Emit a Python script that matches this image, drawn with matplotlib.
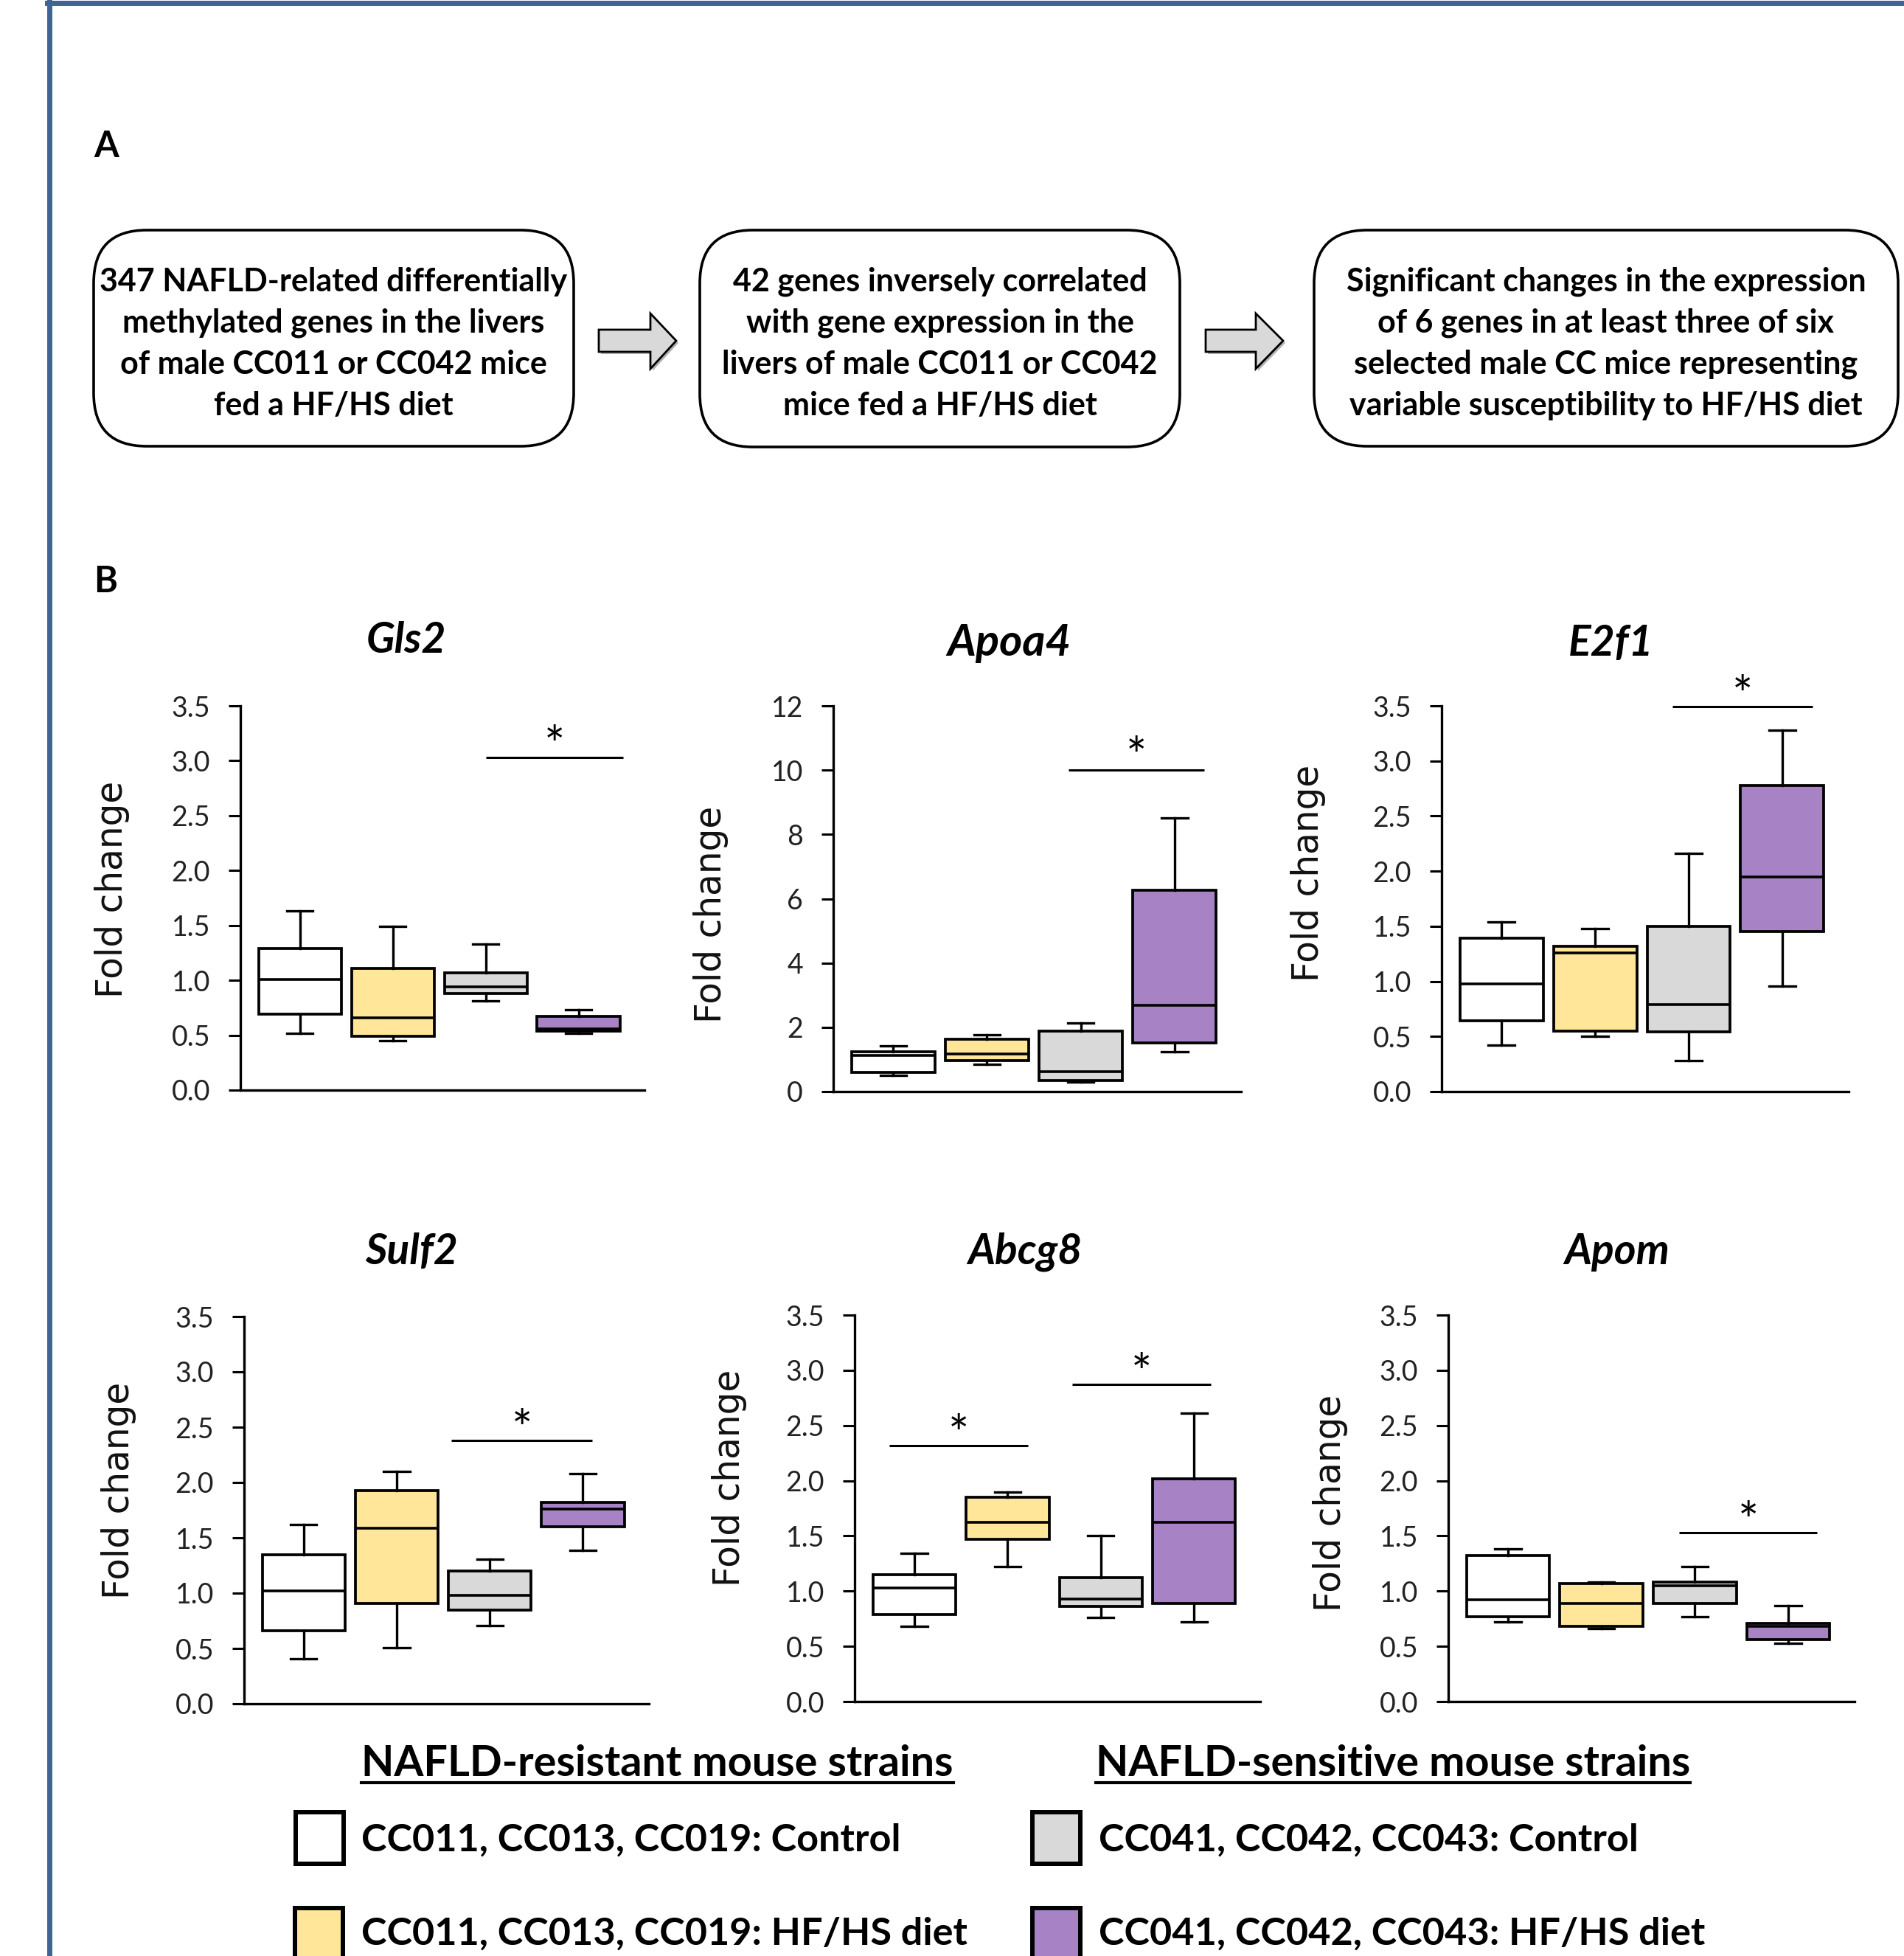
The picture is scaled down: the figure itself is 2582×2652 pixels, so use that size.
import matplotlib
matplotlib.use('Agg')
import matplotlib.pyplot as plt
from matplotlib.patches import FancyBboxPatch, Polygon, Rectangle
from matplotlib.lines import Line2D
from matplotlib.ticker import FixedLocator, FormatStrFormatter
from matplotlib.transforms import offset_copy

# ---------------- data ----------------
genes = ['Gls2', 'Apoa4', 'E2f1', 'Sulf2', 'Abcg8', 'Apom']
groups = ['CC011, CC013, CC019: Control', 'CC011, CC013, CC019: HF/HS diet',
          'CC041, CC042, CC043: Control', 'CC041, CC042, CC043: HF/HS diet']
group_colors = ['#FFFFFF', '#FFE699', '#D9D9D9', '#A783C5']

# box statistics per gene, one value per group: whisker low, Q1, median, Q3, whisker high
gls2 = dict(low=[0.52, 0.45, 0.81, 0.52], q1=[0.69, 0.49, 0.88, 0.54],
            med=[1.01, 0.66, 0.94, 0.56], q3=[1.29, 1.11, 1.07, 0.67],
            high=[1.63, 1.49, 1.33, 0.73])
apoa4 = dict(low=[0.50, 0.85, 0.29, 1.23], q1=[0.60, 0.97, 0.34, 1.51],
             med=[1.12, 1.18, 0.61, 2.69], q3=[1.25, 1.63, 1.89, 6.26],
             high=[1.43, 1.77, 2.14, 8.51])
e2f1 = dict(low=[0.42, 0.50, 0.28, 0.96], q1=[0.64, 0.55, 0.54, 1.45],
            med=[0.98, 1.26, 0.79, 1.95], q3=[1.39, 1.32, 1.50, 2.78],
            high=[1.54, 1.48, 2.16, 3.28])
sulf2 = dict(low=[0.41, 0.51, 0.71, 1.39], q1=[0.66, 0.91, 0.85, 1.60],
             med=[1.02, 1.59, 0.98, 1.76], q3=[1.35, 1.93, 1.20, 1.82],
             high=[1.62, 2.10, 1.31, 2.08])
abcg8 = dict(low=[0.68, 1.22, 0.76, 0.72], q1=[0.79, 1.47, 0.86, 0.89],
             med=[1.03, 1.62, 0.93, 1.62], q3=[1.15, 1.85, 1.12, 2.02],
             high=[1.34, 1.90, 1.50, 2.61])
apom = dict(low=[0.72, 0.66, 0.77, 0.53], q1=[0.77, 0.68, 0.89, 0.56],
            med=[0.92, 0.89, 1.05, 0.68], q3=[1.32, 1.07, 1.08, 0.71],
            high=[1.38, 1.08, 1.22, 0.87])
gene_stats = [gls2, apoa4, e2f1, sulf2, abcg8, apom]

# y-axis ticks per gene
ticks_35 = [0.0, 0.5, 1.0, 1.5, 2.0, 2.5, 3.0, 3.5]
ticks_12 = [0, 2, 4, 6, 8, 10, 12]
gene_ticks = [ticks_35, ticks_12, ticks_35, ticks_35, ticks_35, ticks_35]

# significance brackets: (x start, x end, bar level, star level) in data units
sig_brackets = [
    [(3.00, 4.48, 3.03, 3.27)],
    [(2.87, 4.32, 10.0, 10.86)],
    [(2.83, 4.32, 3.49, 3.72)],
    [(2.59, 4.10, 2.38, 2.61)],
    [(0.73, 2.22, 2.32, 2.55), (2.69, 4.18, 2.87, 3.10)],
    [(2.83, 4.31, 1.53, 1.76)],
]

flow_texts = [
    ['347 NAFLD-related differentially', 'methylated genes in the livers',
     'of male CC011 or CC042 mice', 'fed a HF/HS diet'],
    ['42 genes inversely correlated', 'with gene expression in the',
     'livers of male CC011 or CC042', 'mice fed a HF/HS diet'],
    ['Significant changes in the expression', 'of 6 genes in at least three of six',
     'selected male CC mice representing', 'variable susceptibility to HF/HS diet'],
]
legend_headers = ['NAFLD-resistant mouse strains', 'NAFLD-sensitive mouse strains']

# ---------------- layout ----------------
W, H = 2582, 2652
DPI = 100
fig = plt.figure(figsize=(W / DPI, H / DPI), dpi=DPI)
fig.patch.set_facecolor('white')

FAM = ['Lato', 'DejaVu Sans']
BOLD = dict(family=FAM, weight='bold')

# overlay in pixel coordinates
ov = fig.add_axes([0, 0, 1, 1])
ov.set_xlim(0, W)
ov.set_ylim(H, 0)
ov.axis('off')

# blue frame (left and top)
border = '#3F6493'
ov.add_line(Line2D([67, 67], [0, H], color=border, lw=5))
ov.add_line(Line2D([64, W], [3.5, 3.5], color=border, lw=5))

# panel letters
ov.text(127, 213, 'A', fontsize=35, ha='left', va='baseline', **BOLD)
ov.text(127, 803, 'B', fontsize=35, ha='left', va='baseline', **BOLD)

# flowchart boxes
box_rects = [(127, 312, 778, 605), (949, 312, 1600, 606), (1782, 312, 2574, 605)]
baselines = [395, 451, 507, 563]
for (x0, y0, x1, y1), lines in zip(box_rects, flow_texts):
    ov.add_patch(FancyBboxPatch((x0, y0), x1 - x0, y1 - y0,
                                boxstyle='round,pad=0,rounding_size=72',
                                fc='white', ec='black', lw=2.6))
    cx = (x0 + x1) / 2
    for by, ln in zip(baselines, lines):
        ov.text(cx, by, ln, fontsize=31, ha='center', va='baseline', **BOLD)

# arrows
for ax0, hx, tip in [(812, 882, 917), (1635, 1703, 1740)]:
    pts = [(ax0, 447), (hx, 447), (hx, 425), (tip, 462), (hx, 500), (hx, 477), (ax0, 477)]
    shadow = [(x + 3, y + 3) for x, y in pts]
    ov.add_patch(Polygon(shadow, closed=True, fc='#7f7f7f', ec='none', alpha=0.6))
    ov.add_patch(Polygon(pts, closed=True, fc='#D9D9D9', ec='black', lw=2.0))

# legend
head_x = [490, 1486]
heads = []
for hxx, txt in zip(head_x, legend_headers):
    heads.append(ov.text(hxx, 2408, txt, fontsize=41.5, ha='left', va='baseline', **BOLD))
fig.canvas.draw()
r = fig.canvas.get_renderer()
inv = ov.transData.inverted()
for t in heads:
    bb = t.get_window_extent(renderer=r)
    xa = inv.transform((bb.x0, 0))[0]
    xb = inv.transform((bb.x1, 0))[0]
    ov.add_line(Line2D([xa, xb], [2417, 2417], color='black', lw=3.0))

sq = [(401, 2457), (1400, 2457), (400, 2587), (1400, 2587)]
txt_pos = [(490, 2510), (1490, 2510), (490, 2637), (1490, 2637)]
order = [0, 2, 1, 3]
for k, gi in enumerate(order):
    x, y = sq[k]
    ov.add_patch(Rectangle((x, y), 65, 70, fc=group_colors[gi], ec='black', lw=4.3))
    tx, ty = txt_pos[k]
    ov.text(tx, ty, groups[gi], fontsize=37.6, ha='left', va='baseline', **BOLD)

# ---------------- box plot panels ----------------
axes_px = [(326, 957, 874, 1478), (1130, 957, 1683, 1480), (1955, 957, 2507, 1480),
           (331, 1785, 880, 2310), (1159, 1783, 1709, 2307), (1964, 1783, 2515, 2307)]
ylabel_dx = [174, 166, 181, 170, 170, 160]
ylabel_cy = [1206, 1240, 1184, 2021, 2004, 2038]
title_xy = [(551, 885), (1368, 889), (2185, 889), (558, 1714), (1390, 1714), (2193, 1714)]
title_size = [41, 43, 41, 41, 41, 41]

for i, (gene, st, ticks) in enumerate(zip(genes, gene_stats, gene_ticks)):
    l, t, rr, b = axes_px[i]
    ax = fig.add_axes([l / W, 1 - b / H, (rr - l) / W, (b - t) / H])
    ax.patch.set_alpha(0)
    stats = []
    for g in range(4):
        stats.append(dict(whislo=st['low'][g], q1=st['q1'][g], med=st['med'][g],
                          q3=st['q3'][g], whishi=st['high'][g], fliers=[]))
    bp = ax.bxp(stats, positions=[1, 2, 3, 4], widths=0.89, patch_artist=True,
                showfliers=False,
                boxprops=dict(lw=2.7, edgecolor='black'),
                medianprops=dict(lw=2.6, color='black'),
                whiskerprops=dict(lw=2.4, color='black'),
                capprops=dict(lw=2.4, color='black'), capwidths=0.28)
    for patch, c in zip(bp['boxes'], group_colors):
        patch.set_facecolor(c)
    ax.set_xlim(0.36, 4.71)
    ax.set_ylim(ticks[0], ticks[-1])
    ax.yaxis.set_major_locator(FixedLocator(ticks))
    if ticks[-1] < 5:
        ax.yaxis.set_major_formatter(FormatStrFormatter('%.1f'))
    else:
        ax.yaxis.set_major_formatter(FormatStrFormatter('%d'))
    ax.set_xticks([])
    for s in ['top', 'right']:
        ax.spines[s].set_visible(False)
    for s in ['left', 'bottom']:
        ax.spines[s].set_linewidth(2.4)
    ax.tick_params(axis='y', direction='out', length=11.5, width=2.2, pad=18,
                   labelsize=27, labelcolor='#222222')
    for lab in ax.get_yticklabels():
        lab.set_family(FAM)
    ax.set_ylabel('Fold change', fontsize=35, family='DejaVu Sans', color='#111111',
                  va='center')
    ax.yaxis.set_label_coords(-ylabel_dx[i] / (rr - l), (b - ylabel_cy[i]) / (b - t))
    # significance
    star_tr = offset_copy(ax.transData, fig=fig, x=0, y=-0.62 * 48, units='points')
    for (xa, xb, yl, ys) in sig_brackets[i]:
        ax.plot([xa, xb], [yl, yl], color='black', lw=2.2, clip_on=False,
                solid_capstyle='butt')
        ax.text((xa + xb) / 2, ys, '*', fontsize=48, ha='center', va='baseline',
                family=FAM, transform=star_tr, clip_on=False)
    # title
    tx, ty = title_xy[i]
    ov.text(tx, ty, gene, fontsize=title_size[i], ha='center', va='baseline',
            family=FAM, weight='bold', style='italic')

fig.savefig('out.png', dpi=DPI, facecolor='white')
